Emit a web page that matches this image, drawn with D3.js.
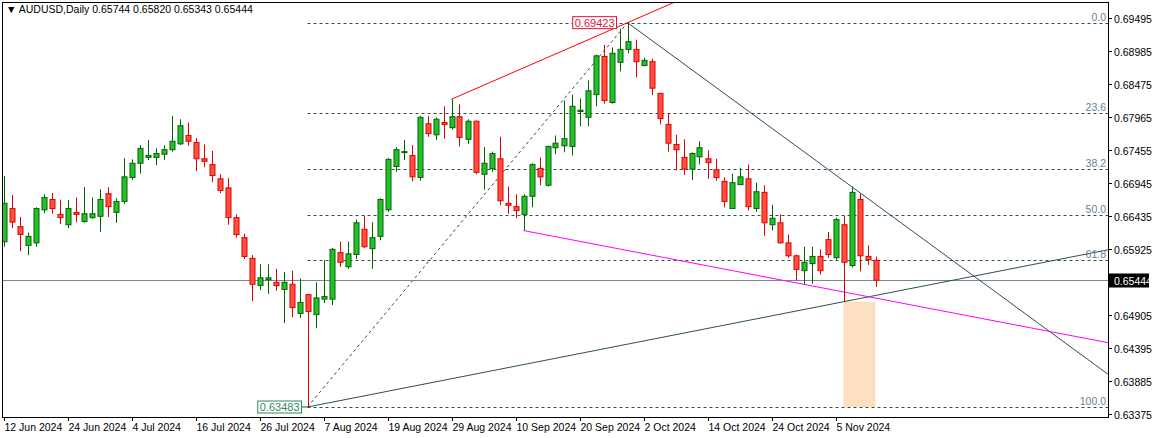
<!DOCTYPE html>
<html>
<head>
<meta charset="utf-8">
<script src="https://cdn.jsdelivr.net/npm/d3@7"></script>
<style>
  body { margin: 0; background: #fff; }
  svg { display: block; font-family: "Liberation Sans", Arial, sans-serif; }
</style>
</head>
<body>
<svg id="chart" width="1154" height="438"></svg>
<script>
// daily AUDUSD bars, first bar is 12 Jun 2024
var opens  = [.66037,.6655,.6627,.6598,.6602,.6653,.6669,.6646,.6630,.6649,.6635,.6641,.6643,.6678,.6649,.6666,.6703,.6725,.6734,.6734,
  .6739,.6746,.6755,.6768,.6757,.6732,.6723,.6701,.6687,.6641,.6610,.6578,.6536,.6545,.6541,.6530,.6538,.6493,.6522,.6491,
  .6515,.6515,.6587,.6565,.6584,.6623,.6593,.6612,.6653,.6720,.6742,.6737,.6703,.6786,.6769,.6788,.6780,.6797,.6762,.6790,
  .6708,.6717,.6732,.6663,.6658,.6646,.6674,.6717,.6691,.6749,.6752,.6751,.6805,.6796,.6831,.6890,.6819,.6881,.6901,.6901,
  .6876,.6882,.6833,.6785,.6754,.6734,.6716,.6735,.6732,.6715,.6697,.6655,.6692,.6701,.6655,.6680,.6630,.6633,.6602,.6582,
  .6559,.6570,.6581,.6607,.6579,.6630,.6567,.6669,.6581,.6575]
var highs  = [.67053,.6676,.6642,.6618,.6657,.6677,.6679,.6669,.6668,.6672,.6688,.6672,.6685,.6688,.6671,.6733,.6731,.6753,.6761,.6748,
  .6753,.6798,.6793,.6788,.6764,.6754,.6744,.6708,.6702,.6646,.6616,.6583,.6569,.6569,.6562,.6557,.6559,.6547,.6522,.6541,
  .6575,.6594,.6604,.6604,.6638,.6644,.6634,.6671,.6733,.6750,.6761,.6753,.6798,.6798,.6796,.6813,.6824,.6816,.6793,.6791,
  .6750,.6743,.6766,.6689,.6677,.6677,.6725,.6734,.6752,.6768,.6822,.6831,.6825,.6853,.6893,.6908,.6904,.6933,.69423,.6916,
  .6888,.6887,.6834,.6802,.6769,.6762,.6742,.6759,.6745,.6732,.6703,.6709,.6718,.6723,.6695,.6691,.6661,.6646,.6615,.6584,
  .6596,.6596,.6592,.6619,.6641,.6644,.6689,.6678,.6598,.6581]
var lows   = [.65960,.6625,.6589,.6583,.6596,.6648,.6647,.6631,.6625,.6634,.6633,.6639,.6619,.6642,.6633,.6662,.6699,.6709,.6730,.6722,
  .6730,.6743,.6753,.6752,.6713,.6719,.6696,.6679,.6630,.6610,.6577,.6512,.6529,.6523,.6528,.6478,.6487,.6486,.63483,.6470,
  .6509,.6506,.6565,.6562,.6577,.6594,.6562,.6606,.6650,.6712,.6730,.6697,.6698,.6766,.6761,.6763,.6777,.6751,.6755,.6708,
  .6684,.6712,.6660,.6647,.6640,.6621,.6657,.6691,.6689,.6739,.6742,.6737,.6782,.6782,.6813,.6817,.6817,.6867,.6895,.6858,
  .6875,.6830,.6785,.6743,.6714,.6707,.6699,.6723,.6701,.6698,.6657,.6655,.6692,.6652,.6650,.6613,.6621,.6601,.6579,.6544,
  .6538,.6539,.6553,.6579,.6576,.6511,.6564,.6558,.6568,.6534]
var closes = [.66631,.6634,.6615,.6612,.6655,.6672,.6655,.6641,.6655,.6646,.6647,.6647,.6669,.6658,.6666,.6704,.6725,.6748,.6737,.6740,
  .6746,.6759,.6783,.6759,.6732,.6728,.6706,.6683,.6641,.6615,.6581,.6538,.6548,.6548,.6536,.6541,.6502,.6510,.6496,.6517,
  .6519,.6592,.6572,.6585,.6633,.6596,.6610,.6669,.6731,.6746,.6743,.6704,.6796,.6771,.6793,.6785,.6797,.6765,.6790,.6711,
  .6725,.6740,.6667,.6660,.6652,.6674,.6723,.6704,.6751,.6756,.6763,.6813,.6807,.6837,.6891,.6822,.6895,.6901,.6913,.6882,
  .6884,.6841,.6794,.6756,.6746,.6716,.6740,.6749,.6726,.6703,.6666,.6695,.6704,.6658,.6681,.6633,.6640,.6602,.6582,.6561,
  .6572,.6581,.6559,.6584,.6638,.6572,.6680,.6582,.6576,.65444]

var dateTicks = [0, 8, 16, 24, 32, 40, 48, 56, 64, 72, 80, 88, 96, 104]
var dateLabels = ['12 Jun 2024', '24 Jun 2024', '4 Jul 2024', '16 Jul 2024', '26 Jul 2024', '7 Aug 2024', '19 Aug 2024',
  '29 Aug 2024', '10 Sep 2024', '20 Sep 2024', '2 Oct 2024', '14 Oct 2024', '24 Oct 2024', '5 Nov 2024']
var priceTicks = [0.69495, 0.68985, 0.68475, 0.67965, 0.67455, 0.66945, 0.66435, 0.65925, 0.64905, 0.64395, 0.63885, 0.63375]

// fibonacci from the 5 Aug low to the 30 Sep high
var fibLow = 0.63483, fibHigh = 0.69423
var fibLowBar = 38, fibHighBar = 78
var fibLevels = [0, 23.6, 38.2, 50.0, 61.8, 100.0]
var lastPrice = 0.65444

var svg = d3.select('#chart')
var pLeft = 2, pRight = 1108, pTop = 2, pBottom = 417

var x = d3.scaleLinear().domain([0, 109]).range([3.5, 875.5])
var y = d3.scaleLinear().domain([0.63375, 0.69495]).range([414, 18])

svg.append('clipPath').attr('id', 'clip').append('rect')
    .attr('x', pLeft).attr('y', pTop).attr('width', pRight - pLeft).attr('height', pBottom - pTop)
var plot = svg.append('g').attr('clip-path', 'url(#clip)')

// line through two (bar, price) points, stretched to the right edge
function ray(g, b1, p1, b2, p2, color, dash) {
    var endBar = 160
    var pEnd = p1 + (p2 - p1) * (endBar - b1) / (b2 - b1)
    g.append('line')
        .attr('x1', x(b1)).attr('y1', y(p1))
        .attr('x2', x(endBar)).attr('y2', y(pEnd))
        .attr('stroke', color).attr('stroke-width', 1)
        .attr('stroke-dasharray', dash || null)
}

// orange zone
plot.append('rect')
    .attr('x', x(105)).attr('y', y(lows[105]))
    .attr('width', x(109) - x(105)).attr('height', y(fibLow) - y(lows[105]))
    .attr('fill', '#fde0c2')

// fib levels
fibLevels.forEach((lv) => {
    var p = fibHigh - (fibHigh - fibLow) * lv / 100
    plot.append('line')
        .attr('x1', x(fibLowBar)).attr('x2', pRight)
        .attr('y1', Math.round(y(p)) + 0.5).attr('y2', Math.round(y(p)) + 0.5)
        .attr('stroke', '#2f4f4f').attr('stroke-dasharray', '3,3')
    svg.append('text')
        .attr('x', pRight - 2).attr('y', Math.round(y(p)) - 2)
        .attr('text-anchor', 'end').attr('font-size', 10.5).attr('fill', '#6a7f95')
        .text(lv.toFixed(1))
})
plot.append('line')
    .attr('x1', x(fibLowBar)).attr('y1', y(fibLow))
    .attr('x2', x(fibHighBar)).attr('y2', y(fibHigh))
    .attr('stroke', '#2f4f4f').attr('stroke-dasharray', '3,3')

// current price line
plot.append('line')
    .attr('x1', pLeft).attr('x2', pRight)
    .attr('y1', Math.round(y(lastPrice)) + 0.5).attr('y2', Math.round(y(lastPrice)) + 0.5)
    .attr('stroke', '#778899')

// trend lines
ray(plot, 56, highs[56], 78, highs[78], '#ff0000')
ray(plot, 78, highs[78], 106, highs[106], '#2f4f4f')
ray(plot, 38, lows[38], 105, lows[105], '#2f4f4f')
ray(plot, 65, lows[65], 100, lows[100], '#ff00ff')

// candles
var bars = plot.append('g')
closes.forEach((c, i) => {
    var o = opens[i]
    var up = c >= o
    var line = up ? '#006400' : '#e00000'
    var cx = Math.round(x(i)) + 0.5
    bars.append('line')
        .attr('x1', cx).attr('x2', cx)
        .attr('y1', y(highs[i])).attr('y2', y(lows[i]))
        .attr('stroke', line)
    var yt = y(Math.max(o, c)), yb = y(Math.min(o, c))
    bars.append('rect')
        .attr('x', cx - 2.5).attr('y', yt)
        .attr('width', 5).attr('height', Math.max(1, yb - yt))
        .attr('fill', up ? '#22c02a' : '#ff5040')
        .attr('stroke', line)
})

// price labels on the chart
function tag(bar, price, color, dx) {
    var g = svg.append('g')
    var t = g.append('text')
        .attr('x', x(bar) + dx).attr('y', y(price) + 4)
        .attr('text-anchor', 'end').attr('font-size', 11).attr('fill', color)
        .text(price.toFixed(5))
    var bb = t.node().getBBox()
    g.insert('rect', 'text')
        .attr('x', bb.x - 2).attr('y', bb.y).attr('width', bb.width + 4).attr('height', bb.height)
        .attr('fill', '#fff').attr('stroke', color)
}
tag(fibHighBar, fibHigh, '#dc143c', -13)
svg.append('line').attr('x1', x(fibLowBar) - 6).attr('x2', x(fibLowBar))
    .attr('y1', y(fibLow)).attr('y2', y(fibLow)).attr('stroke', '#008000')
tag(fibLowBar, fibLow, '#2e8b57', -8)

// frame
svg.append('rect')
    .attr('x', pLeft + 0.5).attr('y', pTop + 0.5)
    .attr('width', pRight - pLeft).attr('height', pBottom - pTop)
    .attr('fill', 'none').attr('stroke', '#000')

// price axis
priceTicks.forEach((p) => {
    var yy = Math.round(y(p)) + 0.5
    svg.append('line').attr('x1', pRight).attr('x2', pRight + 4)
        .attr('y1', yy).attr('y2', yy).attr('stroke', '#000')
    svg.append('text').attr('x', pRight + 6).attr('y', yy + 4)
        .attr('font-size', 10.5).attr('fill', '#000').text(p.toFixed(5))
})
var ly = Math.round(y(lastPrice)) + 0.5
svg.append('rect').attr('x', pRight + 1).attr('y', ly - 7).attr('width', 40).attr('height', 14).attr('fill', '#000')
svg.append('text').attr('x', pRight + 6).attr('y', ly + 4)
    .attr('font-size', 10.5).attr('fill', '#fff').text(lastPrice.toFixed(5))

// date axis
dateTicks.forEach((b, k) => {
    var xx = Math.round(x(b)) + 0.5
    svg.append('line').attr('x1', xx).attr('x2', xx)
        .attr('y1', pBottom).attr('y2', pBottom + 4).attr('stroke', '#000')
    svg.append('text').attr('x', xx).attr('y', pBottom + 14)
        .attr('font-size', 10.5).attr('fill', '#000').text(dateLabels[k])
})

// header
svg.append('text').attr('x', 6).attr('y', 13).attr('font-size', 10.5).attr('fill', '#000')
    .text('\u25BC AUDUSD,Daily  0.65744 0.65820 0.65343 0.65444')
</script>
</body>
</html>
